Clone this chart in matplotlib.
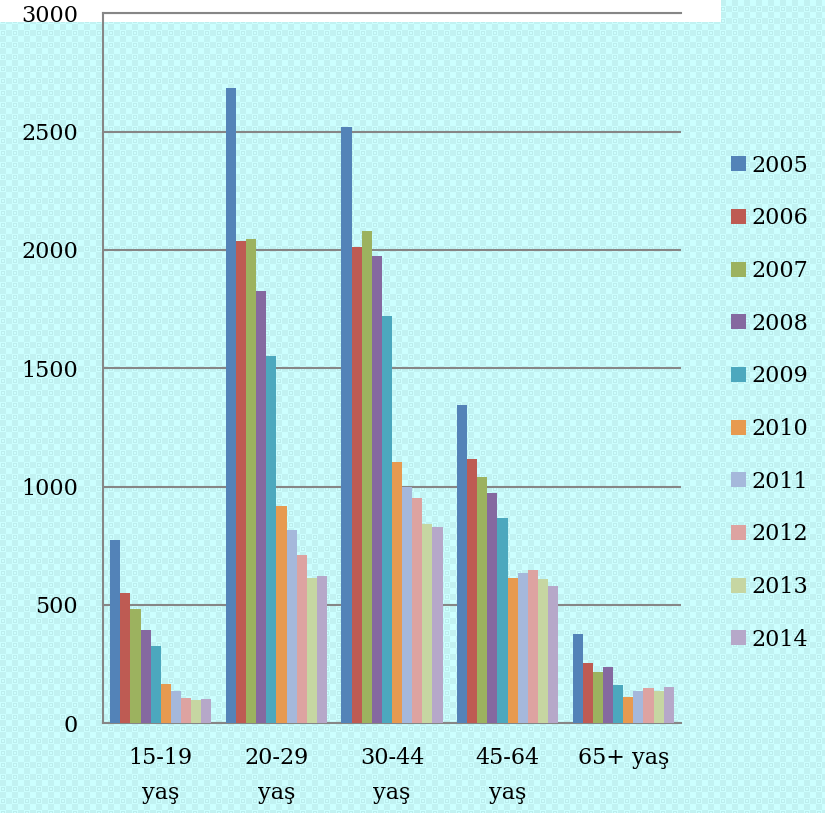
import numpy as np
import matplotlib
matplotlib.use('Agg')
import matplotlib.pyplot as plt

# yaş grupları ve yıllar
groups = ['15-19\nyaş', '20-29\nyaş', '30-44\nyaş', '45-64\nyaş', '65+ yaş']
years = ['2005', '2006', '2007', '2008', '2009', '2010', '2011', '2012', '2013', '2014']

v2005 = [775, 2684, 2521, 1343, 378]
v2006 = [550, 2038, 2011, 1115, 256]
v2007 = [482, 2045, 2082, 1040, 217]
v2008 = [396, 1828, 1975, 974, 238]
v2009 = [326, 1554, 1722, 867, 161]
v2010 = [166, 920, 1105, 613, 113]
v2011 = [137, 817, 999, 634, 138]
v2012 = [109, 710, 950, 646, 149]
v2013 = [100, 614, 844, 609, 135]
v2014 = [101, 623, 831, 579, 154]
values = [v2005, v2006, v2007, v2008, v2009, v2010, v2011, v2012, v2013, v2014]

colors = ['#5383B8', '#BE5B53', '#9CB25F', '#8569A0', '#4CA8BE',
          '#E79A50', '#A5B8DB', '#DDA3A1', '#C6D6A2', '#B6A8C9']

W, H = 825, 813
fig = plt.figure(figsize=(W / 100, H / 100), dpi=100)

# desenli açık turkuaz arka plan
base = [0.80, 1.0, 1.0]
dark = [0.76, 0.95, 0.95]
tile = np.zeros((12, 12, 3))
tile[:, :] = base
tile[0:6, 0:6] = dark
tile[6:12, 6:12] = dark
tile[7:11, 1:5] = [0.74, 0.93, 0.93]
tile[8:10, 2:4] = base
bg = np.tile(tile, (H // 12 + 1, W // 12 + 1, 1))[:H, :W]
bg[:22, :721] = 1.0
fig.figimage(bg, 0, 0, origin='upper', zorder=-10)

ax = fig.add_axes([103 / W, 1 - 723.3 / H, 578 / W, 710 / H])
ax.set_facecolor('none')

x = np.arange(len(groups))
bw = 0.0874
for i, (yr, vals) in enumerate(zip(years, values)):
    ax.bar(x + (i - 4.5) * bw, vals, bw, color=colors[i], label=yr, zorder=3)

ax.set_xlim(-0.5, len(groups) - 0.5)
ax.set_ylim(0, 3000)
ax.set_yticks(range(0, 3001, 500))
ax.set_xticks(x)
ax.set_xticklabels(groups, linespacing=1.75)
ax.yaxis.grid(True, color='#868686', linewidth=1.5, zorder=1)
ax.set_axisbelow(True)

for s in ['left', 'top', 'bottom']:
    ax.spines[s].set_color('#868686')
    ax.spines[s].set_linewidth(1.5)
ax.spines['right'].set_visible(False)

ax.tick_params(axis='y', length=0, pad=18, labelsize=16)
ax.tick_params(axis='x', length=0, pad=17, labelsize=16)
for lab in ax.get_xticklabels() + ax.get_yticklabels():
    lab.set_fontfamily('DejaVu Serif')

leg = ax.legend(loc='center left', bbox_to_anchor=(731 / W, 1 - 402.5 / H),
                bbox_transform=fig.transFigure, frameon=False,
                prop={'family': 'DejaVu Serif', 'size': 16},
                handlelength=0.66, handleheight=0.66, handletextpad=0.27,
                labelspacing=1.38, borderpad=0, borderaxespad=0)

fig.savefig('out.png', dpi=100)
